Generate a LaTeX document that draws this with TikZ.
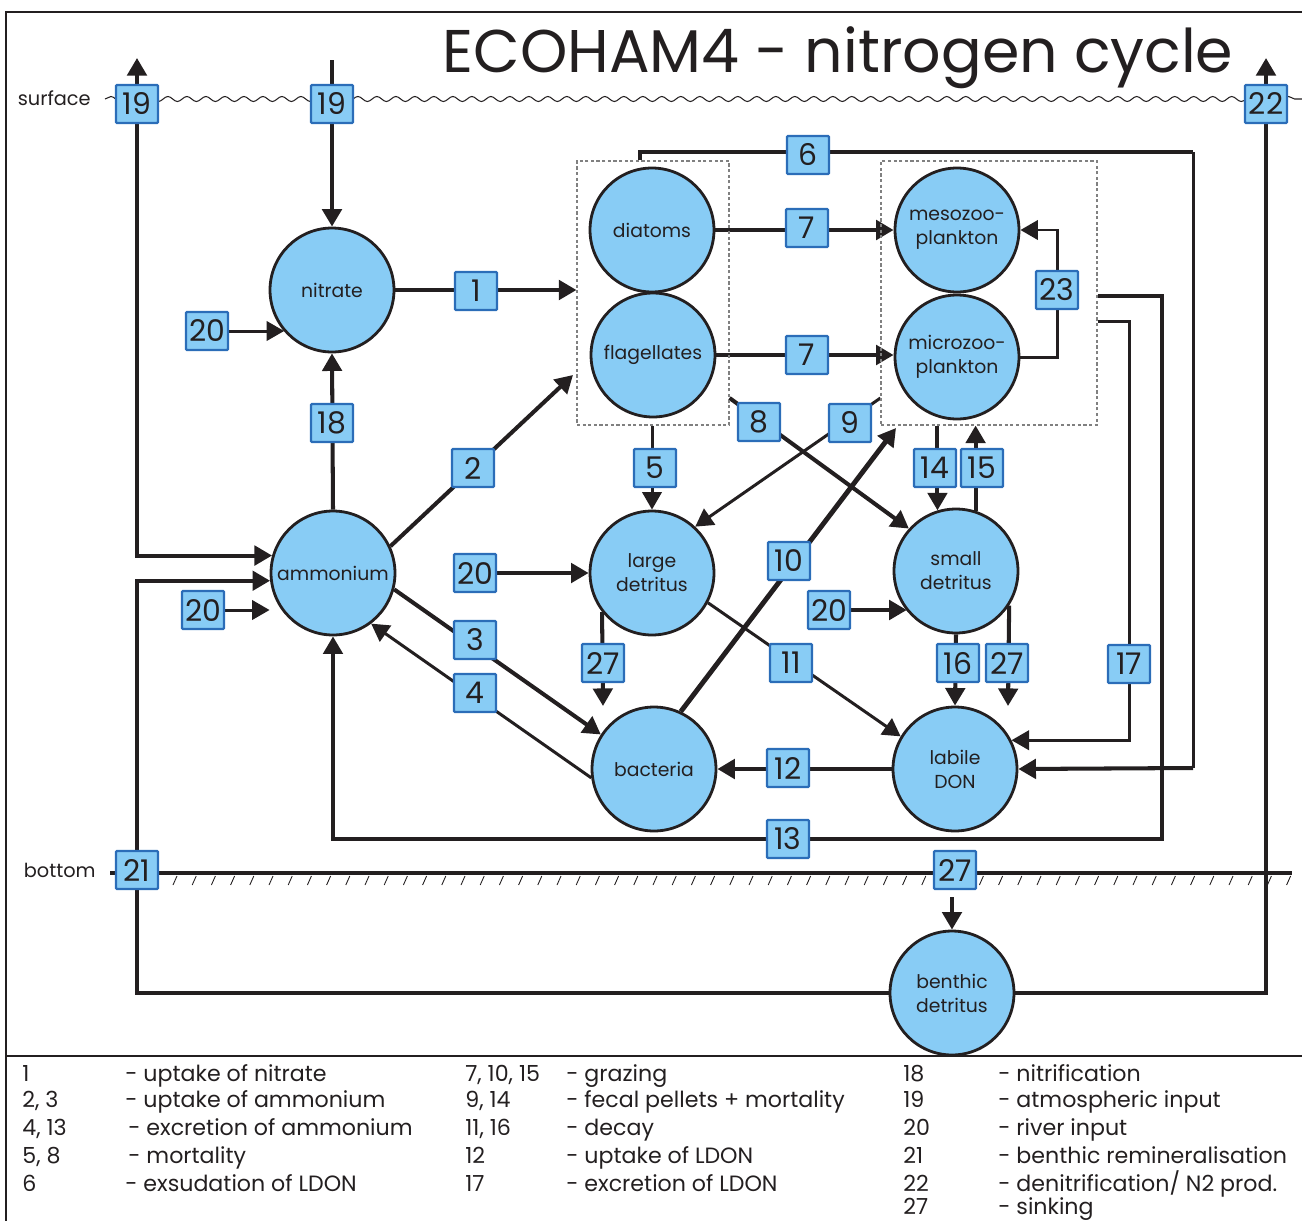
\documentclass[tikz,border=0pt]{standalone}
\usepackage{fontspec}
\setmainfont{Poppins}
\usetikzlibrary{arrows.meta,decorations.pathmorphing,fit,backgrounds}
\definecolor{cfill}{HTML}{88CCF5}
\definecolor{bline}{HTML}{2B6DB8}
\definecolor{ink}{HTML}{231F20}
\tikzset{
  circ/.style={circle,draw=ink,line width=1.6pt,fill=cfill,minimum size=2.48cm,inner sep=0pt,align=center,text=ink,font=\fontsize{10.7}{13.6}\selectfont},
  lbl/.style={rectangle,draw=bline,fill=cfill,line width=1.3pt,minimum width=0.84cm,minimum height=0.76cm,inner sep=0pt,rounded corners=0.6pt,text=ink,font=\fontsize{17}{17}\selectfont},
  grp/.style={draw=gray,line width=0.6pt,dash pattern=on 1.8pt off 1.4pt,inner sep=0pt},
  tip/.style={-{Triangle[length=10pt,width=11pt]}},
  tipboth/.style={{Triangle[length=10pt,width=11pt]}-{Triangle[length=10pt,width=11pt]}},
  lnA/.style={draw=ink,line width=2.3pt},
  lnB/.style={draw=ink,line width=1.7pt},
  lnC/.style={draw=ink,line width=2.8pt},
  leg/.style={anchor=base west,inner sep=0pt,text=ink,font=\fontsize{12.6}{14}\selectfont},
  side/.style={anchor=base east,inner sep=0pt,text=ink,font=\fontsize{11}{11}\selectfont},
}
\begin{document}
\begin{tikzpicture}[x=0.02cm,y=-0.02cm]
\useasboundingbox (0,0) rectangle (1302,1221);
% compartments
\node[circ] (N) at (332,290) {nitrate};
\node[circ] (D) at (652,230) {diatoms};
\node[circ] (F) at (653,355) {flagellates};
\node[circ] (M) at (957,230) {mesozoo-\\plankton};
\node[circ] (Z) at (957,357) {microzoo-\\plankton};
\node[circ] (A) at (333,573) {ammonium};
\node[circ] (LD) at (652,573) {large\\detritus};
\node[circ] (SD) at (956,571) {small\\detritus};
\node[circ] (B) at (654,769) {bacteria};
\node[circ] (L) at (955,769) {labile\\DON};
\node[circ] (BD) at (952,993) {benthic\\detritus};
\node[grp,fit={(577,161) (729,425)}] (phyto) {};
\node[grp,fit={(881,161) (1097,425)}] (zoo) {};
% process labels
\node[lbl] (b19a) at (137,104) {19};
\node[lbl] (b19b) at (332,104) {19};
\node[lbl] (b22) at (1266,104) {22};
\node[lbl] (b6) at (808,155) {6};
\node[lbl] (b7a) at (807,228) {7};
\node[lbl] (b7b) at (807,355) {7};
\node[lbl] (b1) at (476,291) {1};
\node[lbl] (b20a) at (207,331) {20};
\node[lbl] (b23) at (1057,290) {23};
\node[lbl] (b18) at (332,423) {18};
\node[lbl] (b2) at (473,468) {2};
\node[lbl] (b5) at (655,468) {5};
\node[lbl] (b8) at (759,422) {8};
\node[lbl] (b9) at (850,423) {9};
\node[lbl] (b14) at (935,468) {14};
\node[lbl] (b15) at (982,468) {15};
\node[lbl] (b20b) at (475,573) {20};
\node[lbl] (b10) at (789,561) {10};
\node[lbl] (b20c) at (829,610) {20};
\node[lbl] (b20d) at (203,610) {20};
\node[lbl] (b3) at (475,640) {3};
\node[lbl] (b4) at (475,693) {4};
\node[lbl] (b27a) at (603,663) {27};
\node[lbl] (b11) at (791,663) {11};
\node[lbl] (b16) at (958,663) {16};
\node[lbl] (b27b) at (1007,663) {27};
\node[lbl] (b17) at (1129,664) {17};
\node[lbl] (b12) at (788,768) {12};
\node[lbl] (b13) at (788,839) {13};
\node[lbl] (b21) at (137,870) {21};
\node[lbl] (b27c) at (955,870) {27};
% free ends
\coordinate (t19a) at (137,58);
\coordinate (s19b) at (332,60);
\coordinate (t22) at (1266,58);
\coordinate (t2) at (573,375);
\coordinate (t10) at (896,428);
\coordinate (t27a) at (603,706);
\coordinate (t27b) at (1008,706);
% texts
\node[anchor=base,inner sep=0pt,text=ink,font=\fontsize{34.3}{36}\selectfont] (title) at (838,72) {ECOHAM4 - nitrogen cycle};
\node[side] (surf) at (91,105) {surface};
\node[side] (bot) at (96,877) {bottom};
% legend
\node[leg] (l1n) at (22,1081) {1};
\node[leg] (l1t) at (125,1081) {- uptake of nitrate};
\node[leg] (l2n) at (22,1107) {2, 3};
\node[leg] (l2t) at (125,1107) {- uptake of ammonium};
\node[leg] (l3n) at (22,1135) {4, 13};
\node[leg] (l3t) at (128,1135) {- excretion of ammonium};
\node[leg] (l4n) at (22,1163) {5, 8};
\node[leg] (l4t) at (128,1163) {- mortality};
\node[leg] (l5n) at (22,1191) {6};
\node[leg] (l5t) at (125,1191) {- exsudation of LDON};
\node[leg] (m1n) at (465,1081) {7, 10, 15};
\node[leg] (m1t) at (566,1081) {- grazing};
\node[leg] (m2n) at (465,1107) {9, 14};
\node[leg] (m2t) at (566,1107) {- fecal pellets + mortality};
\node[leg] (m3n) at (465,1135) {11, 16};
\node[leg] (m3t) at (566,1135) {- decay};
\node[leg] (m4n) at (465,1163) {12};
\node[leg] (m4t) at (566,1163) {- uptake of LDON};
\node[leg] (m5n) at (465,1191) {17};
\node[leg] (m5t) at (566,1191) {- excretion of LDON};
\node[leg] (r1n) at (903,1081) {18};
\node[leg] (r1t) at (998,1081) {- nitrification};
\node[leg] (r2n) at (903,1107) {19};
\node[leg] (r2t) at (998,1107) {- atmospheric input};
\node[leg] (r3n) at (903,1135) {20};
\node[leg] (r3t) at (998,1135) {- river input};
\node[leg] (r4n) at (903,1163) {21};
\node[leg] (r4t) at (998,1163) {- benthic remineralisation};
\node[leg] (r5n) at (903,1191) {22};
\node[leg] (r5t) at (998,1191) {- denitrification/ N2 prod.};
\node[leg] (r6n) at (903,1214) {27};
\node[leg] (r6t) at (998,1214) {- sinking};
\begin{scope}[on background layer]
% frame and boundaries
\draw[ink,line width=1.2pt] (1302,12) -- (6,12) -- (6,1221);
\draw[ink,line width=1.4pt] (6,1056) -- (1302,1056);
\draw[ink,line width=0.6pt,decorate,decoration={snake,segment length=0.38cm,amplitude=0.05cm}] (105,99) -- (1302,99);
\draw[ink,line width=1.8pt] (110,873) -- (1292,873);
\foreach \i in {0,...,58} \draw[ink,line width=0.5pt] ({173+19.2*\i},885) -- ({177+19.2*\i},876);
% connectors
\draw[lnA,tipboth] (t19a) |- (A.164);
\draw[lnC,tip] (s19b) -- (N.north);
\draw[lnA,tip] (BD.east) -| (t22);
\draw[lnA,tip] (BD.west) -| (b21.center) |- (A.187);
\draw[lnB,tip] (b20a.east) -- (b20a.east -| N.221);
\draw[lnA,tip] (N.east) -- (N.east -| phyto.west);
\draw[lnA,tip] (A.north) -- (N.south);
\draw[lnA,tip] (A.25) -- (t2);
\draw[lnA,tip] (A.-15) -- (B.147);
\draw[lnB,tip] (B.188) -- (A.-53);
\draw[lnB,tip] (b20d.east) -- (b20d.east -| A.west);
\draw[lnA,tip] (zoo.east |- 0,296) -| (1162,839) -| (A.south);
\draw[lnA] (phyto.north -| 640,0) |- (1193,152);
\draw[lnB] (1193,152) -- (1193,768);
\draw[lnA,tip] (1193,768) -- (L.east);
\draw[lnC,tip] (D.east) -- (M.west);
\draw[lnC,tip] (F.east) -- (F.east -| Z.west);
\draw[lnB,tip] (Z.east) -| (b23.center) |- (M.east);
\draw[lnB,tip] (zoo.east |- 0,321) -| (b17.center) |- (L.27);
\draw[lnB,tip] (phyto.south -| LD.north) -- (LD.north);
\draw[lnA,tip] (phyto.east |- 0,398) -- (SD.138);
\draw[lnB,tip] (zoo.west |- 0,398) -- (LD.47);
\draw[lnC,tip] (B.65) -- (t10);
\draw[lnA,tip] (SD.107 |- zoo.south) -- (SD.107);
\draw[lnA,tip] (SD.72) -- (SD.72 |- zoo.south);
\draw[lnA,tip] (b20b.east) -- (LD.west);
\draw[lnA,tip] (LD.-142) -- (t27a);
\draw[lnB,tip] (LD.-28) -- (L.149);
\draw[lnA,tip] (b20c.east) -- (b20c.east -| SD.219);
\draw[lnA,tip] (SD.south) -- (L.north);
\draw[lnA,tip] (SD.-33) -- (t27b);
\draw[lnC,tip] (L.west) -- (B.east);
\draw[lnA,tip] (BD.north |- 0,897) -- (BD.north);
\end{scope}
\end{tikzpicture}
\end{document}
